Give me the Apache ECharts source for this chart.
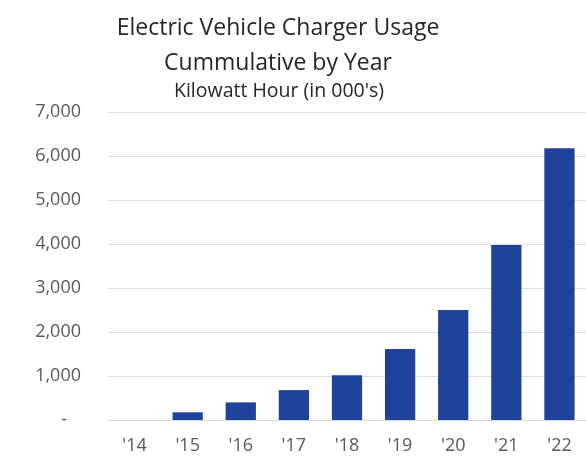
<!DOCTYPE html>
<html>
<head>
<meta charset="utf-8">
<script src="https://cdn.jsdelivr.net/npm/echarts@6/dist/echarts.min.js"></script>
<style>
  html, body { margin: 0; padding: 0; background: #fff; }
  #main { width: 586px; height: 462px; }
</style>
</head>
<body>
<div id="main"></div>
<script>
var years = ["'14", "'15", "'16", "'17", "'18", "'19", "'20", "'21", "'22"];
var usage = [0, 175, 400, 680, 1015, 1615, 2500, 3980, 6175];
var titleLines = ['Electric Vehicle Charger Usage', 'Cummulative by Year'];
var subTitle = "Kilowatt Hour (in 000's)";

var chartDom = document.getElementById('main');
var myChart = echarts.init(chartDom);
var font = 'Open Sans';

var option = {
  animation: false,
  textStyle: { fontFamily: font },
  title: [
    {
      text: titleLines[0], left: 273, top: 12, textAlign: 'center',
      textStyle: { fontFamily: font, fontSize: 23, fontWeight: 'normal', color: '#262626' }
    },
    {
      text: titleLines[1], left: 273, top: 47, textAlign: 'center',
      textStyle: { fontFamily: font, fontSize: 23, fontWeight: 'normal', color: '#262626' }
    },
    {
      text: subTitle, left: 274, top: 76, textAlign: 'center',
      textStyle: { fontFamily: font, fontSize: 19.5, fontWeight: 'normal', color: '#262626' }
    }
  ],
  grid: { left: 108, right: -10, top: 112, bottom: 42, containLabel: false },
  xAxis: {
    type: 'category',
    data: years,
    axisLine: { lineStyle: { color: '#d9d9d9' } },
    axisTick: { show: false },
    axisLabel: { color: '#595959', fontSize: 18, margin: 17, fontFamily: font }
  },
  yAxis: {
    type: 'value',
    min: 0,
    max: 7000,
    interval: 1000,
    axisLine: { show: false },
    axisTick: { show: false },
    splitLine: { lineStyle: { color: '#e3dcd8' } },
    axisLabel: {
      color: '#595959', fontSize: 18, margin: 27, fontFamily: font,
      formatter: function (v) {
        return v === 0 ? '-   ' : v.toLocaleString('en-US');
      }
    }
  },
  series: [
    {
      type: 'bar',
      data: usage,
      barCategoryGap: '43%',
      itemStyle: { color: '#1f439b' }
    }
  ]
};

option && myChart.setOption(option);
</script>
</body>
</html>
